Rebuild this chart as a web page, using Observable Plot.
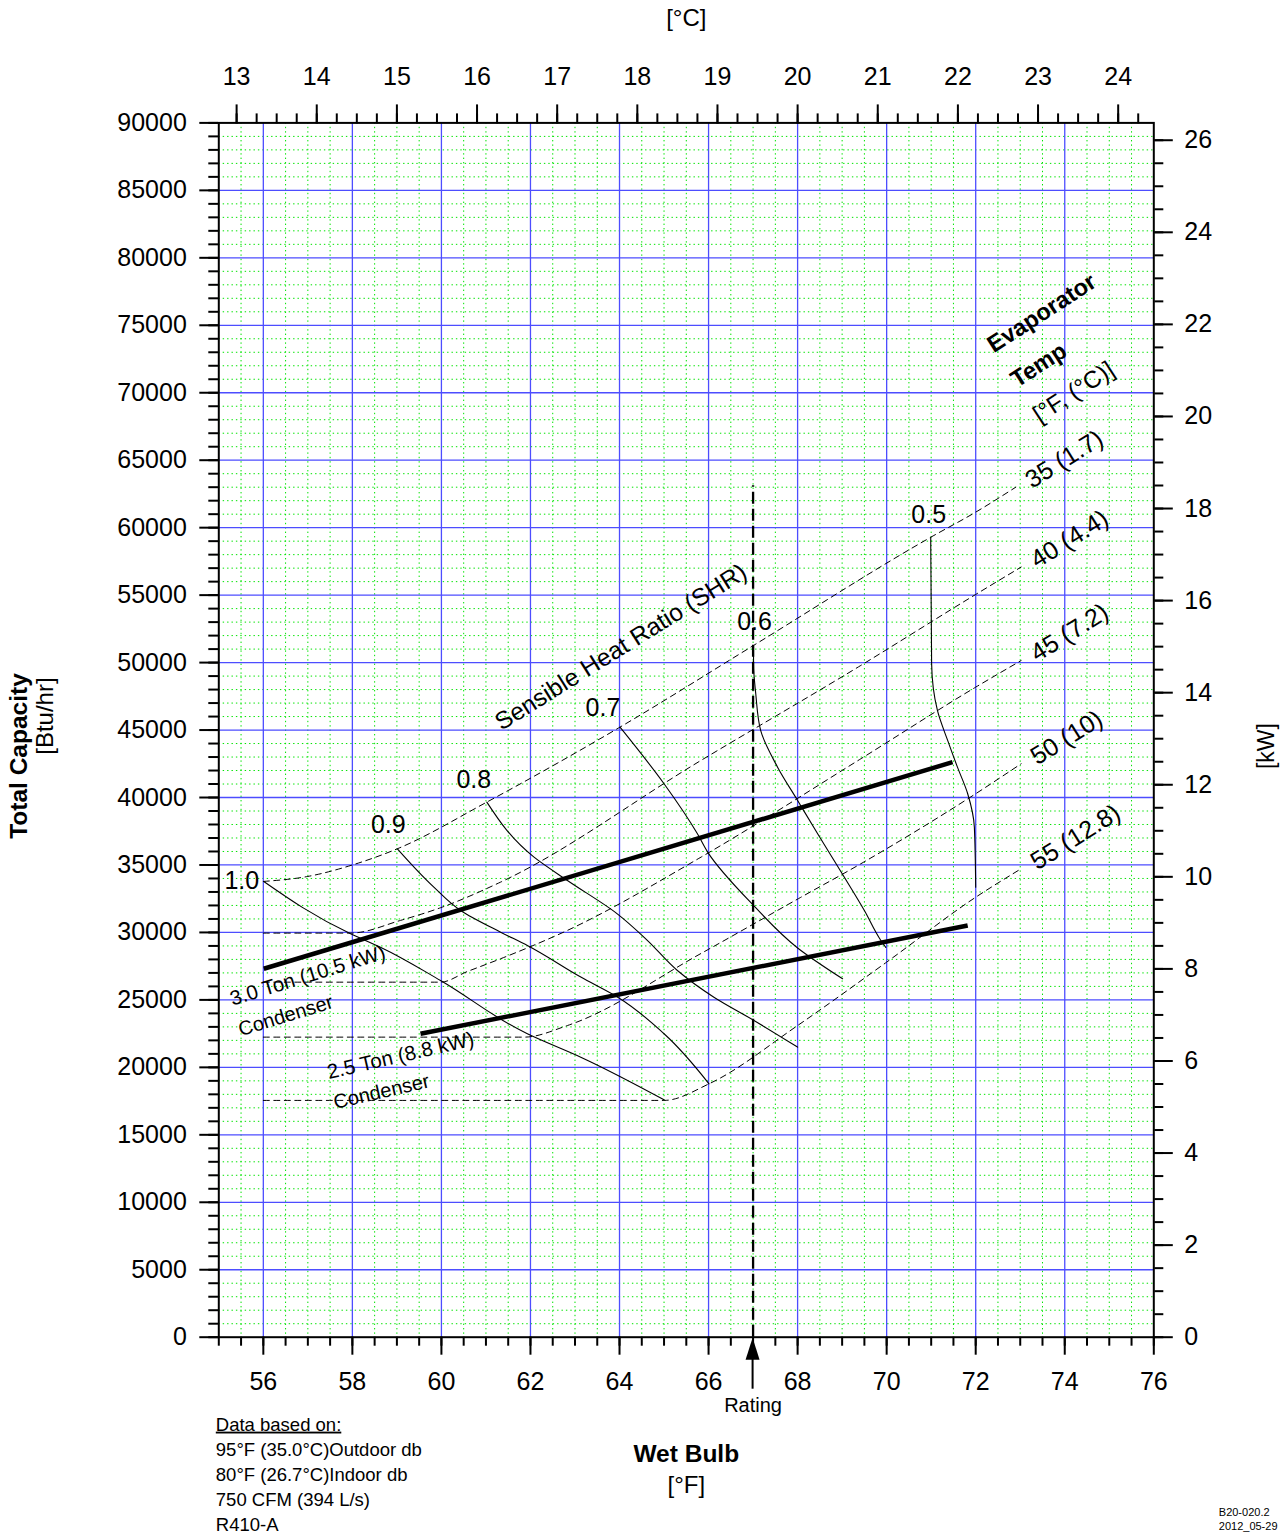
<!DOCTYPE html>
<html><head><meta charset="utf-8">
<script src="https://cdn.jsdelivr.net/npm/d3@7"></script>
<script src="https://cdn.jsdelivr.net/npm/@observablehq/plot@0.6"></script>
<style>
body{margin:0;background:#fff;}
#chart svg{display:block;}
</style>
</head><body><div id="chart"></div>
<script>
// ---------- tick values ----------
const wetBulbTicks = [56, 58, 60, 62, 64, 66, 68, 70, 72, 74, 76];          // °F
const celsiusTicks = [13, 14, 15, 16, 17, 18, 19, 20, 21, 22, 23, 24];      // °C
const capacityTicks = [0, 5000, 10000, 15000, 20000, 25000, 30000, 35000, 40000, 45000,
  50000, 55000, 60000, 65000, 70000, 75000, 80000, 85000, 90000];            // Btu/hr
const kwTicks = [0, 2, 4, 6, 8, 10, 12, 14, 16, 18, 20, 22, 24, 26];        // kW
const btuPerKw = 3412.14;

// ---------- evaporator temperature lines [wet bulb °F, Btu/hr] ----------
const evap35 = [[56.0,33780],[57.0,34150],[58.0,35000],[59.01,36200],[61.02,39660],[64.01,45215],[67.01,51270],[70.99,59290],[72.0,61150],[72.9,63000]];
const evap40 = [[56.0,29950],[57.96,29950],[59.08,30890],[59.98,31830],[61.33,33730],[65.83,42750],[69.42,49790],[72.0,55050],[73.02,57080]];
const evap45 = [[56.0,26314],[59.98,26314],[60.58,27100],[61.33,28050],[62.83,30150],[65.83,35580],[69.42,42870],[72.0,48180],[73.02,50150]];
const evap50 = [[56.0,22240],[61.86,22240],[62.83,23100],[65.83,28440],[68.07,32600],[69.42,35090],[72.0,40280],[73.02,42500]];
const evap55 = [[56.0,17550],[65.0,17550],[66.01,18780],[68.0,23100],[70.0,27800],[72.0,32610],[73.02,34720]];
const evapNames = ["35 (1.7)", "40 (4.4)", "45 (7.2)", "50 (10)", "55 (12.8)"];

// ---------- sensible heat ratio lines ----------
const shr10 = [[56.01,33778],[57.96,29901],[58.63,28908],[59.98,26440],[61.93,22489],[63.13,20755],[65.0,17597]];
const shr09 = [[59.01,36200],[59.83,33360],[60.43,31630],[61.33,30020],[61.93,29030],[63.13,26690],[63.96,25200],[65.0,22490],[66.01,18780]];
const shr08 = [[61.02,39660],[62.08,35580],[62.83,33850],[63.95,31380],[64.63,29400],[65.30,27180],[66.12,25200],[67.02,23475],[68.0,21500]];
const shr07 = [[64.01,45215],[65.0,41020],[65.75,37310],[65.98,35950],[67.01,32000],[68.0,28850],[69.01,26565]];
const shr06 = [[67.01,51270],[67.01,49910],[67.06,47690],[67.17,44970],[67.55,42250],[68.0,39780],[68.45,37310],[69.05,34090],[69.5,31620],[69.87,29400],[69.98,28890]];
const shr05 = [[70.99,59290],[71.01,49910],[71.14,46450],[71.37,44230],[71.59,42250],[71.82,40280],[71.97,37800],[72.0,33355]];
const shrNames = ["1.0", "0.9", "0.8", "0.7", "0.6", "0.5"];

// ---------- condenser lines ----------
const cond30 = [[56.01,27307],[71.48,42620]];
const cond25 = [[59.53,22490],[71.82,30516]];

// ---------- rating ----------
const ratingWB = [67];
const ratingTop = 63100;

const notes = ["Data based on:", "95°F (35.0°C)Outdoor db", "80°F (26.7°C)Indoor db", "750 CFM (394 L/s)", "R410-A"];
const docId = ["B20-020.2", "2012_05-29"];

// ---------- build tables ----------
const toRows = (name, pts) => pts.map(([x, y]) => ({name, x, y}));
const evapSets = [evap35, evap40, evap45, evap50, evap55];
const shrSets = [shr10, shr09, shr08, shr07, shr06, shr05];
const evapRows = evapSets.flatMap((p, i) => toRows(evapNames[i], p));
const shrRows = shrSets.flatMap((p, i) => toRows(shrNames[i], p));
const condRows = [...toRows("3.0", cond30), ...toRows("2.5", cond25)];
const evapEnds = evapSets.map((p, i) => ({name: evapNames[i], x: p[p.length-1][0], y: p[p.length-1][1]}));
const shrTops = shrSets.map((p, i) => ({name: shrNames[i], x: p[0][0], y: p[0][1]}));

const xMinor = d3.range(55, 76.001, 0.5);
const yMinor = d3.range(0, 90001, 1000);
const cMinor = d3.range(13, 24.3, 0.25).map(c => c * 1.8 + 32);
const kwMinor = d3.range(0, 26.01, 0.5).map(k => k * btuPerKw);

const FONT = '"Liberation Sans", Arial, Helvetica, sans-serif';
const W = 1284, H = 1539;
const mL = 218.3, mR = W - 1153.3, mT = 122.4, mB = H - 1336.7;

const GREEN = "#00e400", BLUE = "#4d4dff";
const shrOff = {"1.0": [-22, 0], "0.9": [-9, -24], "0.8": [-13, -22], "0.7": [-17, -19], "0.6": [1, -23], "0.5": [-2, -22]};

const marks = [
  // minor dotted grid
  Plot.gridX(xMinor.filter(v => v % 2 !== 0 && v > 55 && v < 76), {stroke: GREEN, strokeOpacity: 1, strokeWidth: 1, strokeDasharray: "1.4,3"}),
  Plot.gridY(yMinor.filter(v => v % 5000 !== 0), {stroke: GREEN, strokeOpacity: 1, strokeWidth: 1, strokeDasharray: "1.4,3"}),
  // major blue grid
  Plot.gridX(wetBulbTicks.filter(v => v < 76), {stroke: BLUE, strokeOpacity: 1, strokeWidth: 1.3}),
  Plot.gridY(capacityTicks.filter(v => v > 0 && v < 90000), {stroke: BLUE, strokeOpacity: 1, strokeWidth: 1.3}),
  // evaporator lines
  Plot.line(evapRows, {x: "x", y: "y", z: "name", curve: "monotone-x", stroke: "#000", strokeWidth: 1, strokeDasharray: "6,4.5"}),
  // SHR lines
  Plot.line(shrRows, {x: "x", y: "y", z: "name", curve: "monotone-y", stroke: "#000", strokeWidth: 1.1}),
  // condenser lines
  Plot.line(condRows, {x: "x", y: "y", z: "name", stroke: "#000", strokeWidth: 4.5, strokeLinecap: "butt"}),
  // rating line
  Plot.ruleX(ratingWB, {x: d => d, y1: 0, y2: ratingTop, stroke: "#000", strokeWidth: 2.3, strokeDasharray: "12,5"}),
  Plot.frame({stroke: "#000", strokeWidth: 2}),
  // axes
  Plot.axisX(wetBulbTicks, {anchor: "bottom", tickSize: 18, tickPadding: 17, strokeWidth: 2, fontSize: 25, label: null, tickFormat: d => String(d)}),
  Plot.axisX(xMinor, {anchor: "bottom", tickSize: 9, strokeWidth: 2, label: null, tickFormat: () => ""}),
  Plot.axisX(celsiusTicks.map(c => c * 1.8 + 32), {anchor: "top", tickSize: 19, tickPadding: 19, strokeWidth: 2, fontSize: 25, label: null, tickFormat: d => String(Math.round((d - 32) / 1.8))}),
  Plot.axisX(cMinor, {anchor: "top", tickSize: 10, strokeWidth: 2, label: null, tickFormat: () => ""}),
  Plot.axisY(capacityTicks, {anchor: "left", tickSize: 19, tickPadding: 13, strokeWidth: 2, fontSize: 25, label: null, tickFormat: d => String(d)}),
  Plot.axisY(yMinor, {anchor: "left", tickSize: 10, strokeWidth: 2, label: null, tickFormat: () => ""}),
  Plot.axisY(kwTicks.map(k => k * btuPerKw), {anchor: "right", tickSize: 18.5, tickPadding: 12, strokeWidth: 2, fontSize: 25, label: null, tickFormat: d => String(Math.round(d / btuPerKw))}),
  Plot.axisY(kwMinor, {anchor: "right", tickSize: 9, strokeWidth: 2, label: null, tickFormat: () => ""}),
  // SHR labels
  ...shrTops.map(t => Plot.text([t], {x: "x", y: "y", text: "name", fontSize: 25, dx: shrOff[t.name][0], dy: shrOff[t.name][1], fill: "#000"})),
  // evaporator temp labels
  Plot.text(evapEnds, {x: "x", y: "y", text: "name", fontSize: 25, rotate: -32, textAnchor: "start", dx: 12, dy: -5, fill: "#000"}),
  Plot.text([evapEnds[0]], {x: "x", y: "y", text: () => "Evaporator", fontSize: 23.5, fontWeight: "bold", rotate: -33, dx: 26, dy: -174, fill: "#000"}),
  Plot.text([evapEnds[0]], {x: "x", y: "y", text: () => "Temp", fontSize: 23.5, fontWeight: "bold", rotate: -33, dx: 23, dy: -122, fill: "#000"}),
  Plot.text([evapEnds[0]], {x: "x", y: "y", text: () => "[°F, (°C)]", fontSize: 24, rotate: -33, dx: 58, dy: -95, fill: "#000"}),
  Plot.text([shrTops[3]], {x: "x", y: "y", text: () => "Sensible Heat Ratio (SHR)", fontSize: 24.5, rotate: -32, dx: 1, dy: -80, fill: "#000"}),
  // condenser labels
  Plot.text([{x: cond30[0][0], y: cond30[0][1]}], {x: "x", y: "y", text: () => "3.0 Ton (10.5 kW)", fontSize: 20.5, rotate: -17, dx: 44, dy: 7, fill: "#000"}),
  Plot.text([{x: cond30[0][0], y: cond30[0][1]}], {x: "x", y: "y", text: () => "Condenser", fontSize: 20, rotate: -17, dx: 22, dy: 47, fill: "#000"}),
  Plot.text([{x: cond25[0][0], y: cond25[0][1]}], {x: "x", y: "y", text: () => "2.5 Ton (8.8 kW)", fontSize: 20.5, rotate: -13, dx: -20, dy: 22, fill: "#000"}),
  Plot.text([{x: cond25[0][0], y: cond25[0][1]}], {x: "x", y: "y", text: () => "Condenser", fontSize: 20, rotate: -13, dx: -39, dy: 58, fill: "#000"}),
  // rating arrow
  (index, scales, values, dims) => {
    const x = scales.x(ratingWB[0]);
    const y0 = dims.height - dims.marginBottom;
    const g = d3.create("svg:g");
    g.append("path").attr("d", `M${x},${y0 + 1}L${x - 7},${y0 + 23}L${x + 7},${y0 + 23}Z`).attr("fill", "#000");
    g.append("line").attr("x1", x).attr("x2", x).attr("y1", y0 + 20).attr("y2", y0 + 52).attr("stroke", "#000").attr("stroke-width", 2);
    return g.node();
  },
  Plot.text(ratingWB, {x: d => d, frameAnchor: "bottom", lineAnchor: "middle", dy: 68, text: () => "Rating", fontSize: 20, fill: "#000"}),
  // axis titles
  Plot.text(["[°C]"], {frameAnchor: "top", lineAnchor: "middle", dy: 18 - mT, text: d => d, fontSize: 24, fill: "#000"}),
  Plot.text(["Wet Bulb"], {frameAnchor: "bottom", lineAnchor: "middle", dy: 116.5, text: d => d, fontSize: 24.5, fontWeight: "bold", fill: "#000"}),
  Plot.text(["[°F]"], {frameAnchor: "bottom", lineAnchor: "middle", dy: 148.5, text: d => d, fontSize: 24, fill: "#000"}),
  Plot.text(["Total Capacity"], {frameAnchor: "left", dx: 19 - mL, dy: 26, rotate: -90, textAnchor: "middle", text: d => d, fontSize: 24.5, fontWeight: "bold", fill: "#000"}),
  Plot.text(["[Btu/hr]"], {frameAnchor: "left", dx: 45 - mL, dy: -14, rotate: -90, textAnchor: "middle", text: d => d, fontSize: 24, fill: "#000"}),
  Plot.text(["[kW]"], {frameAnchor: "right", dx: 1266 - 1153.3, dy: 16, rotate: -90, textAnchor: "middle", text: d => d, fontSize: 23, fill: "#000"}),
  // notes
  ...notes.map((t, i) => Plot.text([t], {frameAnchor: "bottom-left", textAnchor: "start", lineAnchor: "middle", dx: -3, dy: 87.5 + i * 25, text: d => d, fontSize: 18.5, fill: "#000"})),
  ...docId.map((t, i) => Plot.text([t], {frameAnchor: "bottom-right", textAnchor: "start", lineAnchor: "middle", dx: 65, dy: 175.5 + i * 13.5, text: d => d, fontSize: 11, fill: "#000"}))
];

const chart = Plot.plot({
  width: W, height: H,
  marginLeft: mL, marginRight: mR, marginTop: mT, marginBottom: mB,
  x: {domain: [55, 76]},
  y: {domain: [0, 90000]},
  style: {fontFamily: FONT, fontSize: "22px", color: "#000", background: "#fff", overflow: "visible"},
  marks
});
document.getElementById("chart").appendChild(chart);
d3.select(chart).selectAll("text").filter(function() { return this.textContent === "Data based on:"; })
  .style("text-decoration", "underline");
</script>
</body></html>
